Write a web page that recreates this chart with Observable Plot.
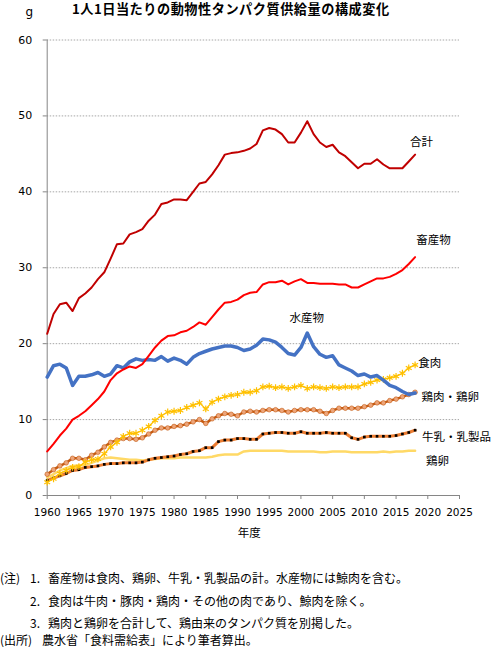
<!DOCTYPE html>
<html><head><meta charset="utf-8">
<script src="https://cdn.jsdelivr.net/npm/d3@7"></script>
<script src="https://cdn.jsdelivr.net/npm/@observablehq/plot@0.6"></script>
<style>
body{margin:0;background:#fff;}
#wrap{position:relative;width:494px;height:647px;overflow:hidden;font-family:"Noto Sans CJK JP",sans-serif;color:#000;}
#chart{position:absolute;left:0;top:0;}
#title{position:absolute;left:72px;top:1px;font-size:13.2px;font-weight:bold;letter-spacing:0.5px;line-height:16px;white-space:nowrap;}
.note{position:absolute;font-size:12px;line-height:14px;white-space:nowrap;}
</style></head><body>
<div id="wrap">
<div id="chart"></div>
<div id="title">1人1日当たりの動物性タンパク質供給量の構成変化</div>
<div class="note" style="left:0;top:571px">(注)</div><div class="note" style="left:30px;top:571px">1.</div><div class="note" style="left:48px;top:571px">畜産物は食肉、鶏卵、牛乳・乳製品の計。水産物には鯨肉を含む。</div>
<div class="note" style="left:30px;top:594px">2.</div><div class="note" style="left:48px;top:594px">食肉は牛肉・豚肉・鶏肉・その他の肉であり、鯨肉を除く。</div>
<div class="note" style="left:30px;top:616px">3.</div><div class="note" style="left:48px;top:616px">鶏肉と鶏卵を合計して、鶏由来のタンパク質を別掲した。</div>
<div class="note" style="left:0;top:633px">(出所)</div><div class="note" style="left:42px;top:633px">農水省「食料需給表」により筆者算出。</div>
</div>
<script>
// Fiscal years 1960–2018
const years = d3.range(1960, 2019);
const total = [21.3,23.9,25.2,25.4,24.3,26.0,26.6,27.4,28.5,29.4,31.2,33.1,33.2,34.4,34.7,35.1,36.2,37.0,38.4,38.6,39.0,39.0,38.9,40.0,41.1,41.3,42.3,43.5,44.9,45.1,45.2,45.4,45.7,46.3,48.1,48.4,48.2,47.6,46.5,46.5,47.8,49.3,47.6,46.5,45.9,46.2,45.2,44.7,43.9,43.1,43.7,43.7,44.3,43.6,43.1,43.1,43.1,44.0,44.9];
const livestock = [5.8,6.8,7.9,8.8,10.0,10.5,11.1,11.9,12.7,13.7,15.2,16.1,16.6,17.0,16.8,17.3,18.4,19.5,20.4,21.0,21.1,21.5,21.7,22.2,22.8,22.5,23.5,24.5,25.4,25.5,25.8,26.4,26.7,26.8,27.8,28.1,28.1,28.3,27.8,28.2,28.5,28.0,28.0,27.9,27.9,27.9,27.8,27.8,27.4,27.4,27.8,28.2,28.6,28.6,28.8,29.2,29.7,30.5,31.4];
const fish = [15.6,17.1,17.3,16.8,14.5,15.7,15.7,15.9,16.2,15.7,16.0,17.1,16.8,17.6,18.0,17.8,17.9,17.8,18.3,17.7,18.1,17.8,17.3,18.2,18.7,19.0,19.3,19.5,19.7,19.7,19.5,19.1,19.3,19.8,20.6,20.5,20.2,19.5,18.7,18.5,19.5,21.4,19.6,18.6,18.2,18.4,17.2,16.8,16.4,15.8,16.0,15.6,15.8,15.2,14.5,14.2,13.7,13.3,13.5];
const meat = [1.75,2.2,2.9,3.3,3.7,3.8,4.4,4.7,4.8,5.5,6.4,7.0,7.8,8.2,8.2,8.6,9.1,9.9,10.5,11.0,11.1,11.2,11.6,11.9,12.2,11.4,12.3,12.7,13.0,13.2,13.3,13.6,13.6,13.8,14.3,14.4,14.2,14.3,14.1,14.3,14.5,14.1,14.3,14.2,14.1,14.3,14.2,14.3,14.3,14.3,14.7,14.9,15.2,15.3,15.5,15.7,16.1,16.8,17.2];
const chickenEgg = [2.8,3.4,3.9,4.3,4.9,4.9,4.7,5.3,5.7,6.4,7.0,7.3,7.5,7.5,7.4,7.6,8.1,8.6,8.9,8.9,9.1,9.2,9.4,9.7,10.0,9.5,10.1,10.5,10.8,10.7,10.5,11.0,11.1,11.0,11.2,11.3,11.3,11.2,11.0,11.2,11.3,11.3,11.3,11.1,10.8,11.2,11.5,11.5,11.5,11.5,11.7,11.9,12.2,12.2,12.5,12.7,13.0,13.3,13.6];
const milk = [2.0,2.3,2.6,2.9,3.3,3.4,3.7,3.8,3.9,4.1,4.2,4.2,4.3,4.3,4.3,4.4,4.7,4.9,5.0,5.1,5.2,5.4,5.5,5.8,5.9,6.3,6.3,7.1,7.3,7.3,7.5,7.5,7.4,7.4,8.1,8.2,8.3,8.3,8.2,8.2,8.4,8.2,8.2,8.2,8.3,8.2,8.2,8.2,7.6,7.4,7.7,7.8,7.8,7.8,7.8,7.9,8.1,8.3,8.6];
const egg = [2.4,2.8,3.3,3.6,3.9,4.0,4.0,4.3,4.6,4.9,5.0,4.9,4.8,4.7,4.7,4.6,4.7,4.8,4.9,4.9,4.9,5.0,5.0,5.0,5.0,5.0,5.1,5.3,5.4,5.4,5.4,5.8,5.9,5.9,5.9,5.9,5.9,5.9,5.8,5.8,5.8,5.8,5.8,5.7,5.7,5.8,5.8,5.8,5.7,5.7,5.7,5.7,5.7,5.8,5.7,5.8,5.8,5.9,5.9];

const seriesNames = ["合計","畜産物","水産物","食肉","鶏肉・鶏卵","牛乳・乳製品","鶏卵"];
// label anchors in data units (year, grams)
const labelYears = [2017.2, 2018.2, 1998.2, 2018.5, 2019.0, 2019.1, 2019.7];
const labelValues = [46.5, 33.6, 23.3, 17.4, 12.9, 7.6, 4.5];

const xTicks = d3.range(1960, 2026, 5);
const yTicks = [0,10,20,30,40,50,60];
const gridTicks = [10,20,30,40,50,60];

const rows = years.map((yr, i) => ({year: yr, total: total[i], livestock: livestock[i], fish: fish[i], meat: meat[i], chickenEgg: chickenEgg[i], milk: milk[i], egg: egg[i]}));
const labels = seriesNames.map((n, i) => ({name: n, x: labelYears[i], y: labelValues[i]}));

const jp = "Noto Sans CJK JP";
const axisGray = "#868686";

const chart = Plot.plot({
  width: 494, height: 550,
  marginTop: 39.5, marginBottom: 55, marginLeft: 46.7, marginRight: 35,
  x: {domain: [1960, 2025]},
  y: {domain: [0, 60]},
  style: {fontFamily: "DejaVu Sans", fontSize: "10.5px", background: "transparent", color: "#000", overflow: "visible"},
  marks: [
    Plot.ruleY(gridTicks, {stroke: "#a6a6a6", strokeDasharray: "1.5,1.5"}),
    Plot.axisY({ticks: yTicks, tickSize: 4, tickPadding: 11, label: null, stroke: axisGray, tickFormat: d => String(d), fontSize: 11}),
    Plot.axisX({ticks: xTicks, tickSize: 4, tickPadding: 9.5, label: null, stroke: axisGray, tickFormat: d => String(d)}),
    Plot.ruleX([1960], {stroke: axisGray}),
    Plot.ruleY([0], {stroke: axisGray}),
    Plot.line(rows, {x: "year", y: "egg", stroke: "#ffd966", strokeWidth: 2.5}),
    Plot.line(rows, {x: "year", y: "milk", stroke: "#ed7d31", strokeWidth: 3}),
    Plot.dot(rows, {x: "year", y: "milk", symbol: "square", r: 1.5, fill: "#000"}),
    Plot.line(rows, {x: "year", y: "chickenEgg", stroke: "#c55a11", strokeWidth: 2.5}),
    Plot.dot(rows, {x: "year", y: "chickenEgg", r: 2.3, fill: "#eda57a", stroke: "#c55a11", strokeWidth: 0.6}),
    Plot.line(rows, {x: "year", y: "meat", stroke: "#ffc000", strokeWidth: 1.3}),
    Plot.dot(rows, {x: "year", y: "meat", symbol: "asterisk", r: 3.2, stroke: "#ffc000", strokeWidth: 1.2}),
    Plot.line(rows, {x: "year", y: "fish", stroke: "#4472c4", strokeWidth: 3.5}),
    Plot.line(rows, {x: "year", y: "livestock", stroke: "#ff0000", strokeWidth: 2}),
    Plot.line(rows, {x: "year", y: "total", stroke: "#c00000", strokeWidth: 2}),
    Plot.text(labels, {x: "x", y: "y", text: "name", textAnchor: "start", lineAnchor: "middle", fontFamily: jp, fontSize: 11.5, fill: "#000"}),
    Plot.text(["g"], {frameAnchor: "top-left", dx: -21.7, dy: -27.5, text: d => d, fontSize: 12, lineAnchor: "middle"}),
    Plot.text(["年度"], {frameAnchor: "bottom", dx: -4, dy: 38, text: d => d, fontFamily: jp, fontSize: 11.5, lineAnchor: "middle"})
  ]
});
document.getElementById("chart").appendChild(chart);
</script>
</body></html>
